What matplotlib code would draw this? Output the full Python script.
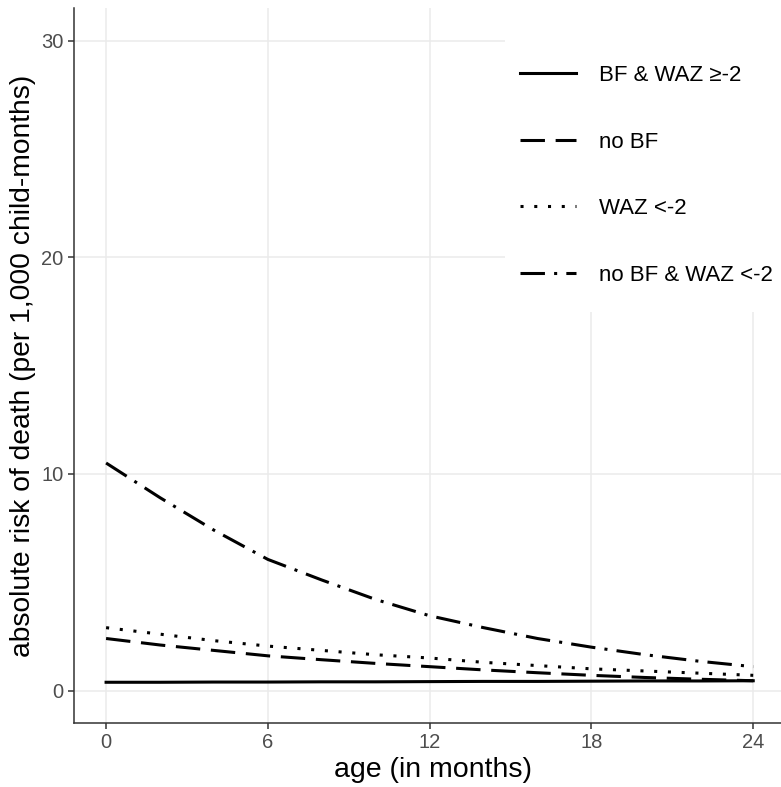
import matplotlib.pyplot as plt
from matplotlib.patches import Rectangle

plt.rcParams['font.family'] = ['Liberation Sans', 'DejaVu Sans']

age = [0, 2, 4, 6, 8, 10, 12, 14, 16, 18, 20, 22, 24]
bf_waz_ok = [0.38, 0.38, 0.39, 0.39, 0.40, 0.40, 0.41, 0.42, 0.42, 0.43, 0.44, 0.44, 0.45]
no_bf = [2.4, 2.1, 1.85, 1.6, 1.42, 1.25, 1.1, 0.95, 0.82, 0.7, 0.6, 0.52, 0.45]
waz_low = [2.9, 2.6, 2.3, 2.05, 1.85, 1.65, 1.5, 1.3, 1.15, 1.0, 0.9, 0.8, 0.7]
no_bf_waz_low = [10.5, 8.9, 7.4, 6.05, 5.1, 4.2, 3.45, 2.9, 2.4, 2.0, 1.65, 1.35, 1.1]

labels = ['BF & WAZ ≥-2', 'no BF', 'WAZ <-2', 'no BF & WAZ <-2']
styles = ['-', (0, (8, 3.5)), (0, (1, 3.5)), (0, (8, 3, 1, 3))]
series = [bf_waz_ok, no_bf, waz_low, no_bf_waz_low]

fig = plt.figure(figsize=(7.81, 7.87), dpi=100)
ax = fig.add_axes([74 / 781, 64 / 787, 707 / 781, 715 / 787])

for y, lab, ls in zip(series, labels, styles):
    ax.plot(age, y, color='black', linewidth=2.2, linestyle=ls, label=lab, zorder=3)

ax.set_xlim(-1.19, 25.03)
ax.set_ylim(-1.5, 31.5)
ax.set_xticks([0, 6, 12, 18, 24])
ax.set_yticks([0, 10, 20, 30])
ax.grid(True, color='#ebebeb', linewidth=1.1)
ax.set_axisbelow(True)
for s in ['top', 'right']:
    ax.spines[s].set_visible(False)
for s in ['left', 'bottom']:
    ax.spines[s].set_color('#333333')
    ax.spines[s].set_linewidth(1.1)
ax.tick_params(colors='#333333', labelcolor='#4d4d4d', labelsize=14.5, length=4, width=1.1)

ax.set_xlabel('age (in months)', fontsize=20.5, labelpad=2)
ax.xaxis.set_label_coords(0.508, -0.048)
ax.set_ylabel('absolute risk of death (per 1,000 child-months)', fontsize=20.3, labelpad=4)

# white legend background covering the grid
ax.add_patch(Rectangle((0.61, 0.575), 0.39, 0.425, transform=ax.transAxes,
                       facecolor='white', edgecolor='none', zorder=1))

leg = ax.legend(loc='upper left', bbox_to_anchor=(0.6308, 0.9203), frameon=False,
                fontsize=16, labelspacing=2.05, handlelength=2.5, handletextpad=1.05,
                borderpad=0, borderaxespad=0)

fig.savefig('out.png', dpi=100)
